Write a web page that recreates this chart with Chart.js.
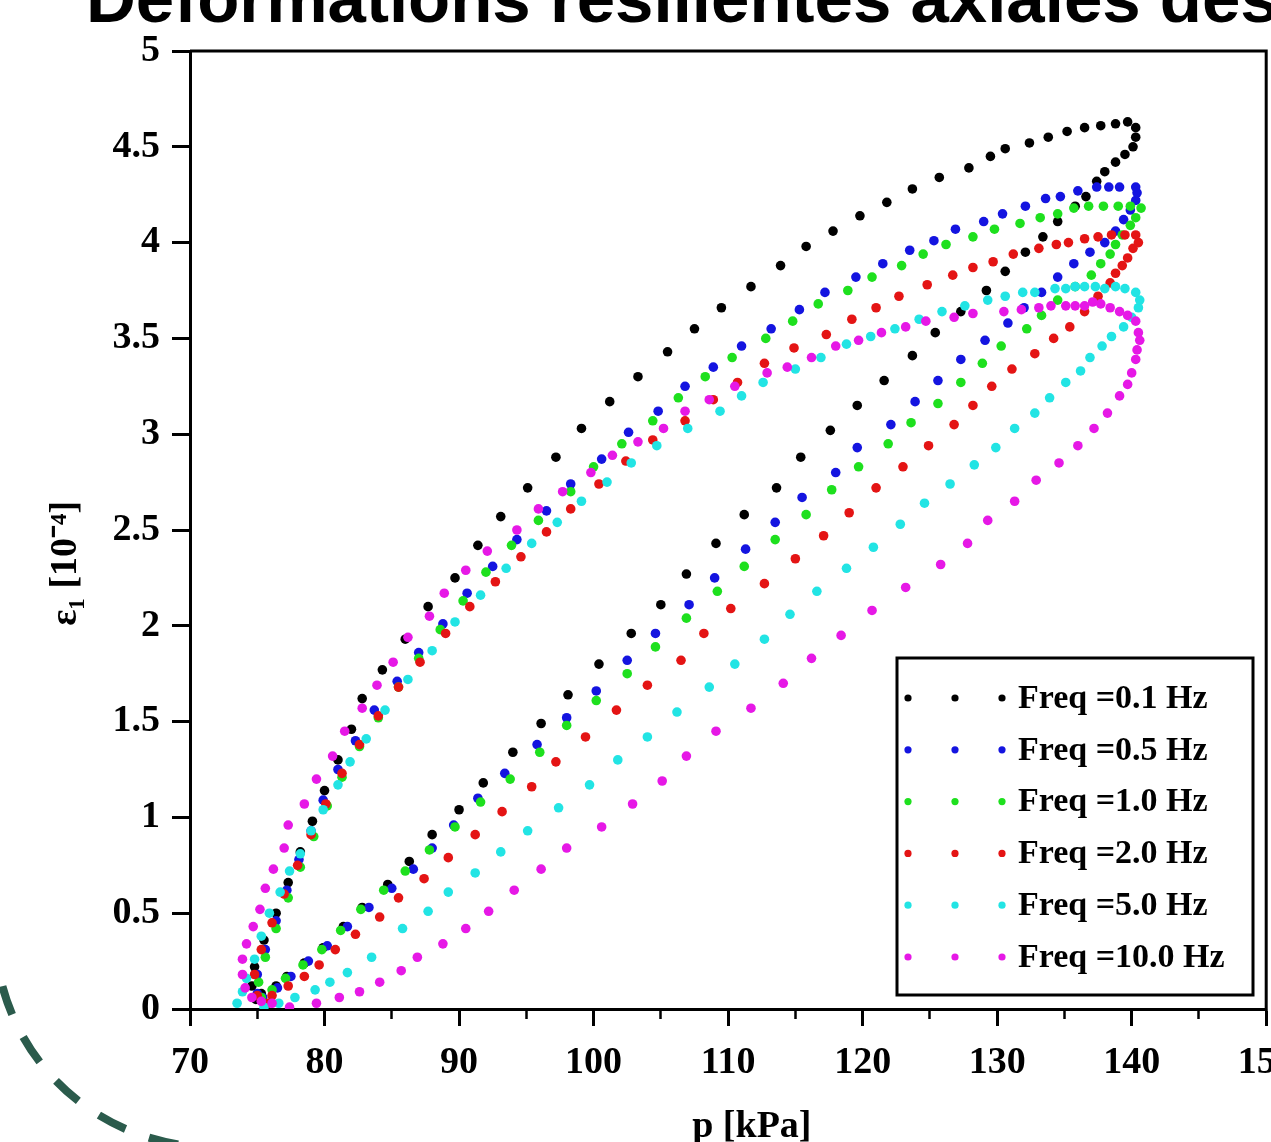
<!DOCTYPE html>
<html>
<head>
<meta charset="utf-8">
<script src="https://cdn.jsdelivr.net/npm/chart.js@4.4.1/dist/chart.umd.min.js"></script>
<style>
  html, body { margin: 0; padding: 0; background: #fff; overflow: hidden; }
  #wrap { position: relative; width: 1271px; height: 1142px; }
  #graphe { position: absolute; left: 0; top: 0; }
  #titre {
    position: absolute; left: 86px; top: -36px;
    font: bold 69px "Liberation Sans", Arial, sans-serif; line-height: 69px;
    white-space: nowrap; color: #000;
  }
</style>
</head>
<body>
<div id="wrap">
  <canvas id="graphe" width="1271" height="1142"></canvas>
  <div id="titre">Déformations résilientes axiales des</div>
</div>
<script>
// axes
const pTicks = [70, 80, 90, 100, 110, 120, 130, 140, 150];
const epsTicks = [0, 0.5, 1, 1.5, 2, 2.5, 3, 3.5, 4, 4.5, 5];

const labels = ['Freq =0.1 Hz', 'Freq =0.5 Hz', 'Freq =1.0 Hz', 'Freq =2.0 Hz', 'Freq =5.0 Hz', 'Freq =10.0 Hz'];
const couleurs = ['#000000', '#1414e0', '#1ee01e', '#e41414', '#22e4e4', '#e618e6'];

// [p (kPa), eps1 (1e-4)] -- boucles
const freq01 = [
  [75.3,0.08],[76.4,0.12],[77.2,0.17],[78.5,0.24],[79.9,0.32],[81.4,0.43],[82.8,0.53],[84.7,0.65],[86.3,0.77],[88.0,0.91],
  [90.0,1.04],[91.8,1.18],[94.0,1.34],[96.1,1.49],[98.1,1.64],[100.4,1.80],[102.8,1.96],[105.0,2.11],[106.9,2.27],[109.1,2.43],
  [111.2,2.58],[113.6,2.72],[115.4,2.88],[117.6,3.02],[119.6,3.15],[121.6,3.28],[123.7,3.41],[125.4,3.53],[127.3,3.64],[129.2,3.75],
  [130.6,3.85],[132.1,3.95],[133.4,4.03],[134.5,4.11],[135.8,4.19],[136.6,4.24],[137.4,4.32],[138.0,4.37],[138.8,4.42],[139.5,4.46],
  [140.1,4.50],[140.3,4.55],[140.3,4.60],[139.7,4.63],
  [138.8,4.62],[137.7,4.61],[136.5,4.60],[135.2,4.58],[133.8,4.55],[132.4,4.52],[130.6,4.49],[129.5,4.45],[127.9,4.39],[125.7,4.34],
  [123.7,4.28],[121.8,4.21],[119.8,4.14],[117.8,4.06],[115.8,3.98],[113.9,3.88],[111.7,3.77],[109.5,3.66],[107.5,3.55],[105.5,3.43],
  [103.3,3.30],[101.2,3.17],[99.1,3.03],[97.2,2.88],[95.1,2.72],[93.1,2.57],[91.4,2.42],[89.7,2.25],[87.7,2.10],[86.0,1.93],
  [84.3,1.77],[82.8,1.62],[82.0,1.46],[81.0,1.30],[80.0,1.14],[79.1,0.98],[78.2,0.82],[77.3,0.66],[76.4,0.50],[75.5,0.36],
  [74.8,0.22],[74.6,0.12],[74.9,0.05]
];
const freq05 = [
  [75.4,0.06],[76.5,0.11],[77.5,0.17],[78.8,0.25],[80.2,0.33],[81.7,0.43],[83.3,0.53],[85.0,0.63],[86.6,0.73],[88.0,0.84],
  [89.6,0.96],[91.4,1.10],[93.4,1.23],[95.8,1.38],[98.0,1.52],[100.2,1.66],[102.5,1.82],[104.6,1.96],[107.1,2.11],[109.0,2.25],
  [111.3,2.40],[113.5,2.54],[115.5,2.67],[118.0,2.80],[119.6,2.93],[122.1,3.05],[123.9,3.17],[125.6,3.28],[127.3,3.39],[129.1,3.49],
  [130.8,3.58],[132.0,3.66],[133.3,3.74],[134.5,3.82],[135.7,3.89],[136.9,3.95],[138.0,4.00],[138.8,4.06],[139.4,4.12],[139.9,4.17],
  [140.3,4.22],[140.4,4.26],
  [140.3,4.29],[139.1,4.29],[138.3,4.29],[137.4,4.29],[136.0,4.27],[134.7,4.24],[133.6,4.23],[132.1,4.19],[130.4,4.15],[129.0,4.11],
  [126.9,4.07],[125.3,4.01],[123.5,3.96],[121.5,3.89],[119.5,3.82],[117.2,3.74],[115.3,3.65],[113.2,3.55],[111.0,3.46],[108.9,3.35],
  [106.8,3.25],[104.8,3.12],[102.6,3.01],[100.6,2.87],[98.3,2.74],[96.5,2.60],[94.3,2.45],[92.5,2.31],[90.6,2.17],[88.8,2.01],
  [87.0,1.86],[85.4,1.71],[83.7,1.56],[82.3,1.40],[81.0,1.25],[79.9,1.09],[79.0,0.93],[78.1,0.78],[77.2,0.62],[76.4,0.46],
  [75.6,0.31],[75.0,0.18],[75.0,0.08]
];
const freq10 = [
  [75.3,0.06],[76.1,0.10],[77.1,0.16],[78.4,0.23],[79.8,0.31],[81.2,0.41],[82.7,0.52],[84.4,0.62],[86.0,0.72],[87.8,0.83],
  [89.7,0.95],[91.6,1.08],[93.8,1.20],[96.0,1.34],[98.0,1.48],[100.2,1.61],[102.5,1.75],[104.6,1.89],[106.9,2.04],[109.2,2.18],
  [111.2,2.31],[113.5,2.45],[115.8,2.58],[117.7,2.71],[119.7,2.83],[121.9,2.95],[123.6,3.06],[125.6,3.16],[127.3,3.27],[128.9,3.37],
  [130.3,3.46],[132.2,3.55],[133.3,3.62],[134.5,3.70],[135.8,3.77],[137.0,3.83],[137.7,3.89],[138.4,3.94],[138.8,3.99],[139.3,4.04],
  [139.9,4.09],[140.3,4.13],[140.7,4.18],
  [139.9,4.19],[139.0,4.19],[137.9,4.19],[136.8,4.19],[135.7,4.18],[134.5,4.15],[133.2,4.13],[131.7,4.10],[129.8,4.07],[128.2,4.03],
  [126.2,3.99],[124.5,3.94],[122.9,3.88],[120.7,3.82],[118.9,3.75],[116.7,3.68],[114.8,3.59],[112.8,3.50],[110.3,3.40],[108.3,3.30],
  [106.3,3.19],[104.4,3.07],[102.1,2.95],[100.0,2.83],[98.3,2.70],[95.9,2.55],[93.9,2.42],[92.0,2.28],[90.3,2.13],[88.6,1.98],
  [87.0,1.83],[85.5,1.68],[84.0,1.52],[82.6,1.37],[81.3,1.21],[80.2,1.06],[79.2,0.90],[78.2,0.74],[77.3,0.58],[76.4,0.42],
  [75.6,0.27],[75.1,0.14]
];
const freq20 = [
  [75.8,0.03],[76.1,0.07],[77.3,0.12],[78.5,0.17],[79.6,0.23],[80.8,0.31],[82.3,0.39],[84.1,0.48],[85.5,0.58],[87.4,0.68],
  [89.2,0.79],[91.2,0.91],[93.2,1.03],[95.4,1.16],[97.2,1.29],[99.4,1.42],[101.7,1.56],[104.0,1.69],[106.5,1.82],[108.2,1.96],
  [110.2,2.09],[112.7,2.22],[115.0,2.35],[117.1,2.47],[119.0,2.59],[121.0,2.72],[123.0,2.83],[124.9,2.94],[126.8,3.05],[128.2,3.15],
  [129.6,3.25],[131.1,3.34],[132.8,3.42],[134.2,3.50],[135.4,3.56],[136.5,3.64],[137.5,3.72],[138.4,3.79],[138.8,3.84],[139.3,3.88],
  [139.7,3.92],[140.1,3.97],[140.5,4.00],
  [140.3,4.04],[139.5,4.04],[138.5,4.04],[137.5,4.03],[136.5,4.02],[135.3,4.00],[134.4,3.99],[133.1,3.97],[131.2,3.94],[129.7,3.90],
  [128.2,3.87],[126.7,3.83],[124.8,3.78],[122.7,3.72],[121.0,3.66],[119.2,3.60],[117.3,3.52],[114.9,3.45],[112.7,3.37],[110.7,3.27],
  [108.9,3.18],[106.8,3.07],[104.4,2.97],[102.4,2.86],[100.4,2.74],[98.3,2.61],[96.5,2.49],[94.6,2.36],[92.7,2.23],[90.8,2.10],
  [89.0,1.96],[87.1,1.81],[85.5,1.68],[84.0,1.53],[82.6,1.38],[81.3,1.23],[80.1,1.07],[79.0,0.91],[78.0,0.75],[77.0,0.60],
  [76.1,0.45],[75.3,0.31],[74.8,0.18],[75.0,0.07]
];
const freq50 = [
  [73.5,0.03],[75.5,0.01],[76.6,0.03],[77.8,0.06],[79.3,0.10],[80.4,0.14],[81.7,0.19],[83.5,0.27],[85.8,0.42],[87.7,0.51],
  [89.2,0.61],[91.2,0.71],[93.1,0.82],[95.1,0.93],[97.4,1.05],[99.7,1.17],[101.8,1.30],[104.0,1.42],[106.2,1.55],[108.6,1.68],
  [110.5,1.80],[112.7,1.93],[114.6,2.06],[116.6,2.18],[118.8,2.30],[120.8,2.41],[122.8,2.53],[124.6,2.64],[126.5,2.74],[128.3,2.84],
  [129.9,2.93],[131.3,3.03],[132.8,3.11],[133.9,3.19],[135.1,3.27],[136.2,3.33],[136.9,3.40],[137.8,3.46],[138.5,3.51],[139.4,3.56],
  [140.0,3.61],[140.5,3.66],
  [140.6,3.70],[140.3,3.74],[139.5,3.76],[138.8,3.77],[138.0,3.76],[137.3,3.77],[136.5,3.77],[135.8,3.77],[135.1,3.76],[134.3,3.76],
  [132.8,3.74],[131.9,3.74],[130.6,3.72],[129.3,3.70],[127.6,3.67],[125.9,3.64],[124.2,3.60],[122.4,3.55],[120.6,3.51],[118.8,3.47],
  [116.9,3.40],[115.0,3.34],[112.6,3.27],[111.0,3.20],[109.4,3.12],[107.0,3.03],[104.7,2.94],[102.8,2.85],[101.0,2.75],[99.1,2.65],
  [97.3,2.54],[95.4,2.43],[93.5,2.30],[91.6,2.16],[89.7,2.02],[88.0,1.87],[86.2,1.72],[84.5,1.56],[83.1,1.41],[81.9,1.29],
  [81.0,1.17],[79.9,1.04],[79.0,0.93],[78.2,0.81],[77.4,0.72],[76.7,0.61],[75.9,0.50],[75.3,0.38],[74.8,0.26],[74.2,0.16],
  [73.9,0.09]
];
const freq100 = [
  [76.1,0.03],[77.4,0.01],[79.4,0.03],[81.1,0.06],[82.6,0.09],[84.1,0.14],[85.7,0.20],[86.9,0.27],[88.8,0.34],[90.5,0.42],
  [92.2,0.51],[94.1,0.62],[96.1,0.73],[98.0,0.84],[100.6,0.95],[102.9,1.07],[105.1,1.19],[106.9,1.32],[109.1,1.45],[111.7,1.57],
  [114.1,1.70],[116.2,1.83],[118.4,1.95],[120.7,2.08],[123.2,2.20],[125.8,2.32],[127.8,2.43],[129.3,2.55],[131.3,2.65],[132.9,2.76],
  [134.6,2.85],[136.0,2.94],[137.2,3.03],[138.2,3.11],[139.1,3.20],[139.7,3.26],[140.0,3.32],[140.3,3.39],[140.4,3.44],[140.6,3.49],
  [140.5,3.53],[140.3,3.59],
  [139.7,3.62],[139.1,3.64],[138.4,3.66],[137.7,3.68],[137.1,3.69],[136.5,3.67],[135.8,3.67],[135.1,3.67],[134.0,3.67],[133.1,3.66],
  [131.8,3.65],[130.5,3.64],[128.2,3.63],[126.8,3.61],[124.7,3.59],[123.2,3.56],[121.4,3.53],[119.7,3.49],[118.0,3.46],[116.2,3.40],
  [114.4,3.35],[112.9,3.32],[110.5,3.25],[108.6,3.18],[106.8,3.12],[105.2,3.03],[103.3,2.96],[101.4,2.89],[99.8,2.80],[97.7,2.70],
  [95.9,2.61],[94.3,2.50],[92.1,2.39],[90.5,2.29],[88.9,2.17],[87.8,2.05],[86.2,1.94],[85.1,1.81],[83.9,1.69],[82.8,1.57],
  [81.5,1.45],[80.6,1.32],[79.4,1.20],[78.5,1.07],[77.3,0.96],[77.0,0.84],[76.2,0.73],[75.6,0.63],[75.2,0.52],[74.7,0.43],
  [74.2,0.34],[73.9,0.26],[73.9,0.18],[74.1,0.11],[74.6,0.06],[75.3,0.04]
];

const series = [freq01, freq05, freq10, freq20, freq50, freq100];

const policeAxe = { family: '"Liberation Serif", "Times New Roman", serif', size: 38, weight: 'bold' };

// cadre haut / droite
const cadre = {
  id: 'cadre',
  afterDraw(chart) {
    const { ctx, chartArea: a } = chart;
    ctx.save();
    ctx.strokeStyle = '#000';
    ctx.lineWidth = 3;
    ctx.beginPath();
    ctx.moveTo(a.left, a.top);
    ctx.lineTo(a.right, a.top);
    ctx.lineTo(a.right, a.bottom);
    ctx.stroke();
    ctx.restore();
  }
};

// legende type Origin (3 points + texte)
const legende = {
  id: 'legende',
  afterDraw(chart) {
    const ctx = chart.ctx;
    const b = { x: 897, y: 658, w: 356, h: 337 };
    ctx.save();
    ctx.fillStyle = '#fff';
    ctx.fillRect(b.x, b.y, b.w, b.h);
    ctx.lineWidth = 3;
    ctx.strokeStyle = '#000';
    ctx.strokeRect(b.x, b.y, b.w, b.h);
    ctx.font = 'bold 34px "Liberation Serif", "Times New Roman", serif';
    ctx.textBaseline = 'middle';
    chart.data.datasets.forEach((ds, i) => {
      const y = b.y + 40 + i * 51.8;
      ctx.fillStyle = ds.backgroundColor;
      [908, 955, 1002].forEach(x => {
        ctx.beginPath();
        ctx.arc(x, y, 3.6, 0, Math.PI * 2);
        ctx.fill();
      });
      ctx.fillStyle = '#000';
      ctx.fillText(ds.label, 1018, y + 1);
    });
    ctx.restore();
  }
};

// arc en tirets (decor de la diapo)
const arcDeco = {
  id: 'arcDeco',
  beforeDraw(chart) {
    const ctx = chart.ctx;
    ctx.save();
    ctx.strokeStyle = '#2b5b4c';
    ctx.lineWidth = 8;
    ctx.setLineDash([30, 25]);
    ctx.beginPath();
    ctx.arc(212, 930, 217, 165 * Math.PI / 180, 95 * Math.PI / 180, true);
    ctx.stroke();
    ctx.restore();
  }
};

new Chart(document.getElementById('graphe'), {
  type: 'scatter',
  data: {
    datasets: series.map((s, i) => ({
      label: labels[i],
      data: s.map(([p, e]) => ({ x: p, y: e })),
      backgroundColor: couleurs[i],
      borderColor: couleurs[i],
      borderWidth: 0,
      pointRadius: 4.8,
      pointStyle: 'circle',
      xAxisID: 'x',
      yAxisID: 'y',
      order: series.length - 1 - i
    }))
  },
  options: {
    responsive: false,
    animation: false,
    events: [],
    layout: { padding: { top: 51, right: 3, bottom: 0, left: 0 } },
    plugins: {
      legend: { display: false },
      tooltip: { enabled: false }
    },
    scales: {
      x: {
        type: 'linear',
        position: 'bottom',
        weight: 1,
        min: pTicks[0],
        max: pTicks[pTicks.length - 1],
        ticks: { stepSize: pTicks[1] - pTicks[0], color: '#000', font: policeAxe, padding: 14, maxRotation: 0, autoSkip: false },
        grid: { drawOnChartArea: false, drawTicks: true, tickLength: 17, tickWidth: 3, tickColor: '#000' },
        border: { display: true, color: '#000', width: 3 },
        title: { display: true, text: '     p [kPa]', color: '#000', font: policeAxe, padding: { top: 0, bottom: -8 } },
        afterFit(s) { s.height = 133; s.paddingLeft = 0; s.paddingRight = 0; }
      },
      xm: {
        type: 'linear',
        position: 'bottom',
        weight: 0,
        min: pTicks[0],
        max: pTicks[pTicks.length - 1],
        ticks: { stepSize: (pTicks[1] - pTicks[0]) / 2, display: false },
        grid: { drawOnChartArea: false, drawTicks: true, tickLength: 10, tickWidth: 2.5, tickColor: '#000' },
        border: { display: false },
        afterFit(s) { s.height = 0; s.paddingLeft = 0; s.paddingRight = 0; }
      },
      y: {
        type: 'linear',
        position: 'left',
        min: epsTicks[0],
        max: epsTicks[epsTicks.length - 1],
        ticks: {
          stepSize: epsTicks[1] - epsTicks[0], color: '#000', font: policeAxe, padding: 12, autoSkip: false,
          callback: v => String(v)
        },
        grid: { drawOnChartArea: false, drawTicks: true, tickLength: 18, tickWidth: 3, tickColor: '#000' },
        border: { display: true, color: '#000', width: 3 },
        title: { display: true, text: 'ε₁ [10⁻⁴]       ', color: '#000', font: policeAxe, padding: { top: 43, bottom: 0 } },
        afterFit(s) { s.width = 190; s.paddingTop = 0; s.paddingBottom = 0; }
      }
    }
  },
  plugins: [arcDeco, cadre, legende]
});
</script>
</body>
</html>
